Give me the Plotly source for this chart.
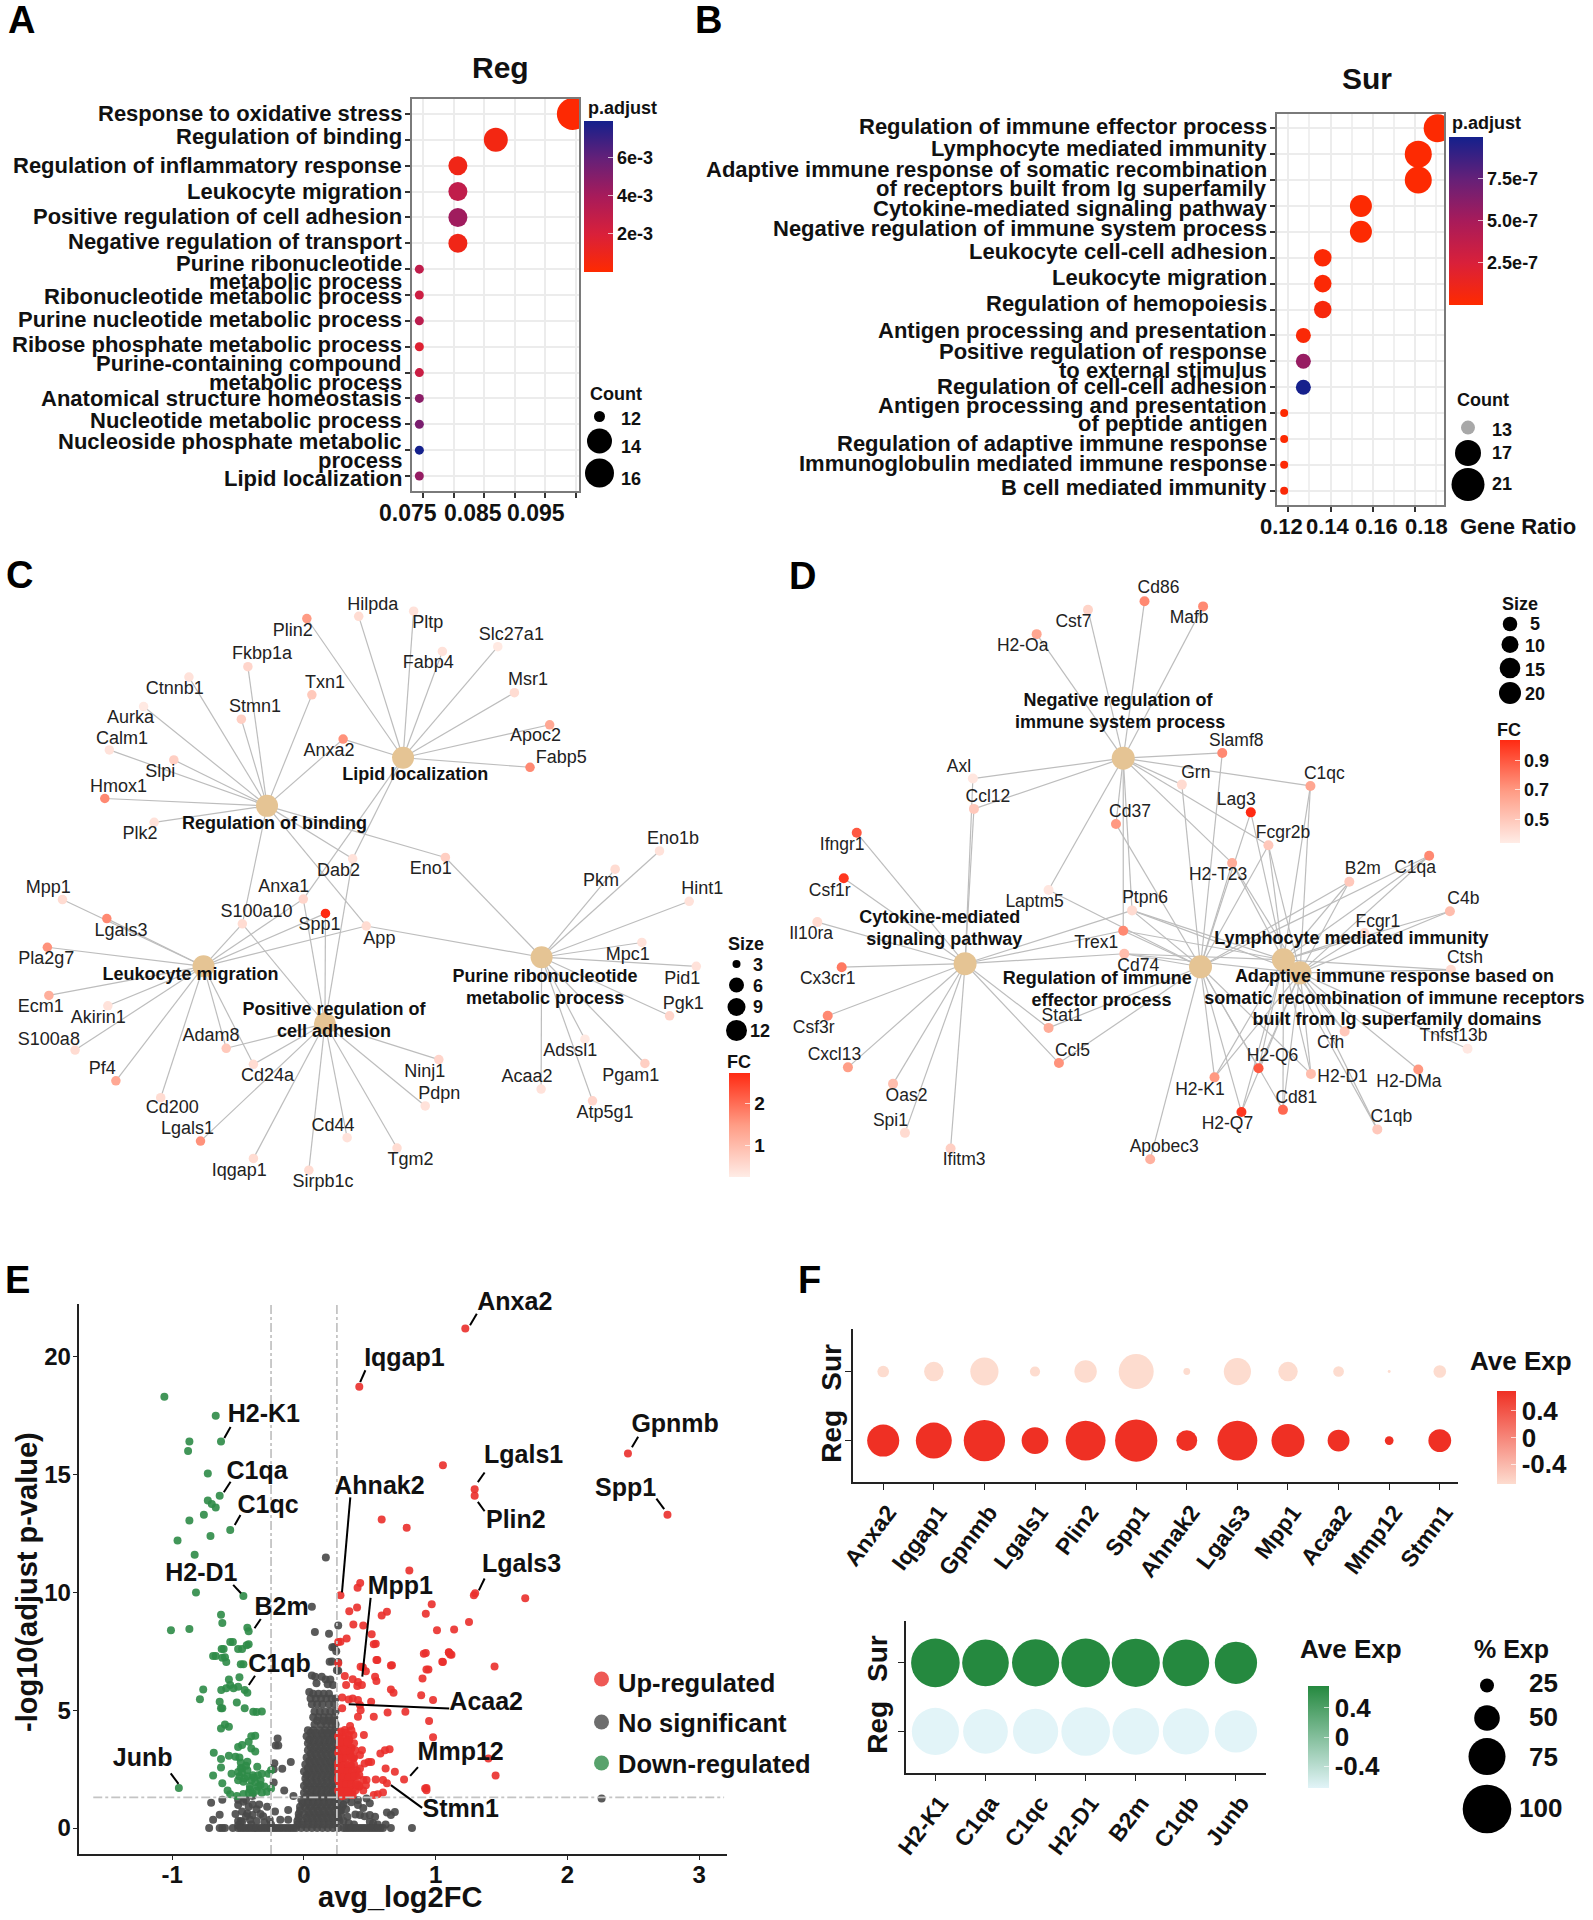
import plotly.graph_objects as go

W, H = 1593, 1920
FONT = "Liberation Sans"

# ---------- Panel A data ----------
A_terms = ["Response to oxidative stress", "Regulation of binding", "Regulation of inflammatory response",
           "Leukocyte migration", "Positive regulation of cell adhesion", "Negative regulation of transport",
           "Purine ribonucleotide\nmetabolic process", "Ribonucleotide metabolic process",
           "Purine nucleotide metabolic process", "Ribose phosphate metabolic process",
           "Purine-containing compound\nmetabolic process", "Anatomical structure homeostasis",
           "Nucleotide metabolic process", "Nucleoside phosphate metabolic\nprocess", "Lipid localization"]
A_ratio = [0.0995, 0.0869, 0.0807, 0.0807, 0.0807, 0.0807, 0.0744, 0.0744, 0.0744, 0.0744, 0.0744, 0.0744, 0.0744, 0.0744, 0.0744]
A_count = [16, 14, 13, 13, 13, 13, 11, 11, 11, 11, 11, 11, 11, 11, 11]
A_padj = [1e-4, 6e-4, 8e-4, 3.0e-3, 4.2e-3, 8e-4, 3.0e-3, 2.5e-3, 3.2e-3, 1.7e-3, 2.6e-3, 4.8e-3, 5.3e-3, 7.9e-3, 4.5e-3]
A_xlabels = ["0.075", "0.085", "0.095"]

# ---------- Panel B data ----------
B_terms = ["Regulation of immune effector process", "Lymphocyte mediated immunity",
           "Adaptive immune response of somatic recombination\nof receptors built from Ig superfamily",
           "Cytokine-mediated signaling pathway", "Negative regulation of immune system process",
           "Leukocyte cell-cell adhesion", "Leukocyte migration", "Regulation of hemopoiesis",
           "Antigen processing and presentation", "Positive regulation of response\nto external stimulus",
           "Regulation of cell-cell adhesion", "Antigen processing and presentation\nof peptide antigen",
           "Regulation of adaptive immune response", "Immunoglobulin mediated immune response",
           "B cell mediated immunity"]
B_ratio = [0.1908, 0.1816, 0.1816, 0.1544, 0.1544, 0.1363, 0.1363, 0.1363, 0.1271, 0.1271, 0.1271, 0.118, 0.118, 0.118, 0.118]
B_count = [21, 20, 20, 17, 17, 15, 15, 15, 14, 14, 14, 13, 13, 13, 13]
B_padj = [1e-8, 1e-8, 1e-8, 1e-8, 1e-8, 2e-8, 2e-8, 5e-8, 3e-8, 5.6e-7, 9.9e-7, 1e-8, 1e-8, 2e-8, 3e-8]
B_xlabels = ["0.12", "0.14", "0.16", "0.18"]

# ---------- Panel C data (network layout units) ----------
C_cats = ["Regulation of binding", "Lipid localization", "Leukocyte migration",
          "Positive regulation of\ncell adhesion", "Purine ribonucleotide\nmetabolic process"]
C_cat_id = ["B", "L", "M", "A", "P"]
C_cat_x = [530, 800, 404, 645, 1075]
C_cat_y = [590, 479, 960, 1092, 939]
C_genes = ["Plin2", "Hilpda", "Pltp", "Fabp4", "Slc27a1", "Msr1", "Apoc2", "Fabp5", "Anxa2", "Fkbp1a", "Ctnnb1", "Stmn1", "Txn1",
           "Aurka", "Calm1", "Slpi", "Hmox1", "Plk2", "Eno1", "Dab2", "Anxa1", "S100a10", "App", "Spp1", "Mpp1", "Lgals3",
           "Pla2g7", "Ecm1", "Akirin1", "S100a8", "Pf4", "Cd200", "Adam8", "Cd24a", "Lgals1", "Iqgap1", "Sirpb1c", "Cd44",
           "Tgm2", "Pdpn", "Ninj1", "Eno1b", "Pkm", "Hint1", "Mpc1", "Pid1", "Pgk1", "Pgam1", "Adssl1", "Atp5g1", "Acaa2"]
C_gene_x = [609, 712, 821, 878, 988, 1021, 1091, 1052, 681, 492, 375, 479, 619,
            285, 217, 345, 208, 306, 884, 700, 602, 481, 727, 646, 124, 212,
            94, 97, 214, 149, 230, 319, 449, 503, 398, 503, 613, 689,
            788, 844, 871, 1309, 1221, 1368, 1274, 1382, 1329, 1280, 1161, 1176, 1074]
C_gene_y = [158, 153, 141, 234, 223, 329, 403, 501, 436, 269, 293, 390, 334,
            361, 461, 484, 573, 628, 709, 712, 805, 862, 867, 838, 806, 850,
            916, 1027, 1051, 1153, 1224, 1263, 1149, 1186, 1363, 1403, 1430, 1355,
            1379, 1282, 1175, 694, 736, 810, 905, 960, 1074, 1184, 1128, 1270, 1243]
C_fc = [1.5, 0.5, 0.4, 0.4, 0.3, 0.5, 1.3, 1.7, 1.6, 0.6, 0.4, 0.7, 0.8,
        0.3, 0.4, 0.7, 1.7, 0.4, 0.7, 0.4, 0.6, 0.5, 0.5, 2.73, 0.5, 1.7,
        1.6, 1.2, 0.4, 0.5, 1.3, 0.5, 0.8, 0.5, 1.6, 0.5, 0.5, 0.4,
        0.5, 0.4, 0.6, 0.4, 0.5, 0.4, 0.4, 0.4, 0.6, 0.7, 0.3, 0.6, 0.4]
C_links = ["L", "L", "L", "L", "L", "L", "L", "L", "BL", "B", "B", "B", "B",
           "B", "B", "B", "B", "B", "BP", "BLA", "LMA", "BMA", "BMP", "MA", "M", "M",
           "M", "M", "M", "M", "M", "M", "MA", "MA", "A", "A", "A", "A",
           "A", "A", "A", "P", "P", "P", "P", "P", "P", "P", "P", "P", "P"]
C_fc_ticks = [1, 2]

# ---------- Panel D data (network layout units) ----------
D_cats = ["Negative regulation of\nimmune system process", "Cytokine-mediated\nsignaling pathway",
          "Regulation of immune\neffector process", "Lymphocyte mediated immunity",
          "Adaptive immune response based on\nsomatic recombination of immune receptors\nbuilt from Ig superfamily domains"]
D_cat_id = ["N", "C", "R", "L", "A"]
D_cat_x = [662, 357, 811, 971, 1003]
D_cat_y = [480, 954, 961, 945, 975]
D_genes = ["Cd86", "Mafb", "Cst7", "H2-Oa", "Slamf8", "Axl", "Ccl12", "Grn", "C1qc", "Lag3", "Cd37", "Fcgr2b", "H2-T23",
           "B2m", "C1qa", "C4b", "Fcgr1", "Ctsh", "Laptm5", "Ptpn6", "Trex1", "Cd74", "Ifngr1", "Csf1r", "Il10ra", "Cx3cr1",
           "Csf3r", "Cxcl13", "Oas2", "Spi1", "Ifitm3", "Stat1", "Ccl5", "Apobec3", "H2-K1", "H2-Q6", "H2-Q7", "Cd81",
           "H2-D1", "Cfh", "C1qb", "H2-DMa", "Tnfsf13b"]
D_gene_x = [703, 816, 594, 495, 853, 372, 374, 775, 1023, 908, 648, 942, 872,
            1098, 1252, 1292, 1127, 1294, 518, 679, 662, 664, 148, 123, 72, 119,
            92, 131, 218, 241, 329, 518, 538, 714, 838, 923, 890, 970,
            1024, 1089, 1152, 1231, 1326]
D_gene_y = [118, 130, 138, 194, 468, 527, 597, 541, 544, 605, 632, 681, 722,
            765, 705, 833, 883, 968, 784, 831, 878, 931, 652, 757, 858, 962,
            1074, 1193, 1231, 1344, 1380, 1102, 1183, 1405, 1216, 1195, 1296, 1291,
            1208, 1110, 1336, 1198, 1150]
D_fc = [0.75, 0.75, 0.45, 0.65, 0.75, 0.37, 0.5, 0.42, 0.65, 1.04, 0.7, 0.5, 0.62,
        0.5, 0.75, 0.55, 0.42, 0.42, 0.37, 0.42, 0.75, 0.55, 0.9, 1.0, 0.42, 0.8,
        0.75, 0.68, 0.55, 0.42, 0.47, 0.62, 0.72, 0.6, 0.7, 0.9, 1.0, 0.85,
        0.55, 0.5, 0.5, 0.7, 0.36]
D_links = ["N", "N", "N", "N", "NR", "NC", "NC", "NR", "NLA", "RL", "NR", "NRLA", "NRLA",
           "RLA", "RLA", "LA", "LA", "LA", "NR", "NCRLA", "NCRL", "CRLA", "C", "C", "C", "C",
           "C", "C", "C", "C", "C", "CR", "CR", "R", "RLA", "RLA", "RLA", "RLA",
           "RLA", "LA", "LA", "A", "A"]

# ---------- Panel E data: avg_log2FC, -log10(adjust p-value) ----------
up_fc = [1.225, .42, 2.46, 1.055, 1.296, 1.296, 2.76, .59, .78, .8, .427, .407, .277, 1.3, 1.29, 1.68, .97, .925, .403, .344, .63, .59,
         .375, .45, 1.253, 1.14, 1.01, .514, .324, .277, .545, .925, 1.1, 1.12, 1.055, .557, .668, .945, 1.447, .447,
         .26, .53, .91, 1.1, 1.11, 1.05, .55, .66, .93, .26, .43, .47, .31, .9, .54, .55, .37, .41, .44, .32, .405, .66, .68,
         .89, .98, .29, .34, .37, .41, .51, .29, .425, .43, .41, .53, .635, .77, .95, .98,
         .35, .31, .28, .34, .375, .455, .27, .3, .345, .38, .29, .32, .36, .32, .27, .35, .31, .29, .375, .44, .58, .615, .65,
         .425, .49, .46, .51, .62, .69, .76, .425, .35, .31, .26, .29, .34, .39, .36, .31, .26, .475, .45, .545, .6, .63,
         .47, .42, .35, .29, .31, .26, .39, .35, .31, .92, .93, .6, .56, .53, .45, .37, 1.4, 1.455, .93, .28, .3, .33, .26, .36, .3, .4, .33, .27, .34, .29,
         .26, .3, .34, .27, .31, .36, .26, .29, .33, .38, .27, .3, .35, .26, .3, .34, .28, .33, .37, .4, .27, .31, .35, .4, .28, .32, .37, .42, .27, .31, .36,
         .28, .32, .36, .29, .33, .27, .31, .35, .39, .28, .32, .36, .27, .3, .34, .38, .29, .33, .37, .26, .3, .34, .38, .42, .28, .32, .36, .4, .29, .33]
up_logp = [21.2, 18.73, 15.9, 15.4, 14.38, 14.1, 13.3, 13.1, 12.75, 10.93, 10.4, 10.2, 9.88, 9.96, 9.88, 9.75, 9.5, 9.1, 9.36, 9.2, 9.18, 9.02,
           8.64, 8.6, 8.75, 8.43, 8.4, 8.23, 8.04, 7.91, 7.82, 7.43, 7.46, 7.36, 7.05, 7.13, 6.91, 6.73, 6.86, 6.82,
           7.9, 7.8, 7.4, 7.45, 7.37, 7.06, 7.13, 6.9, 6.73, 7.0, 6.85, 6.66, 6.45, 6.35, 6.42, 6.24, 6.32, 6.2, 6.07, 6.07, 6.03, 5.88, 5.74,
           5.64, 5.43, 5.54, 5.46, 5.5, 5.43, 5.36, 5.08, 5.22, 5.0, 4.72, 4.72, 4.9, 4.94, 4.54, 3.85,
           4.33, 4.16, 4.02, 3.95, 3.95, 3.95, 3.8, 3.73, 3.73, 3.6, 3.53, 3.46, 3.39, 3.25, 3.18, 3.1, 3.04, 2.9, 2.95, 3.3, 3.17, 3.3, 3.34,
           3.1, 2.8, 2.74, 2.8, 2.53, 2.39, 2.06, 2.53, 2.6, 2.53, 2.39, 2.32, 2.32, 2.32, 2.1, 2.06, 2.03, 2.04, 2.04, 2.06, 2.04, 1.9,
           1.82, 1.75, 1.75, 1.82, 1.6, 1.6, 1.6, 1.46, 1.4, 1.68, 1.61, 1.51, 1.44, 1.4, 1.6, 1.4, 2.95, 2.23, 1.7, 3.45, 3.55, 3.6, 2.75, 2.65, 2.2, 2.45, 1.95, 1.9, 1.5, 1.35,
           3.9, 3.85, 3.75, 3.5, 3.45, 3.4, 3.2, 3.1, 3.15, 3.0, 2.85, 2.8, 2.7, 2.6, 2.55, 2.45, 2.3, 2.25, 2.15, 2.2, 2.0, 1.95, 2.0, 1.9, 1.75, 1.7, 1.65, 1.8, 1.5, 1.45, 1.4,
           4.1, 4.05, 4.15, 3.65, 3.65, 3.3, 3.3, 3.25, 3.3, 2.95, 2.95, 3.0, 2.6, 2.65, 2.65, 2.7, 2.4, 2.4, 2.4, 2.15, 2.15, 2.15, 2.2, 2.25, 1.9, 1.85, 1.85, 1.85, 1.55, 1.55]

down_fc = [-1.06, -.67, -.63, -.87, -.88, -.73, -.64, -.73, -.70, -.67, -.76, -.87, -.56, -.71, -.96, -.83, -.82, -.46, -.63, -.62, -1.01, -.87,
           -.43, -.42, -.54, -.61, -.42, -.47, -.67, -.60, -.59, -.46, -.56, -.625, -.50, -.435, -.69, -.62, -.48, -.765, -.79, -.628, -.57, -.49, -.56,
           -.535, -.5, -.59, -.45, -.43, -.64, -.63, -.62, -.51, -.45, -.385, -.36, -.32, -.63, -.6, -.57, -.4, -.37, -.42, -.47, -.5, -.4, -.37, -.685,
           -.63, -.57, -.52, -.48, -.43, -.63, -.355, -.47, -.55, -.5, -.49, -.69, -.43, -.39, -.35, -.32, -.27, -.25, -.5, -.46, -.4, -.33, -.62, -.41,
           -.33, -.3, -.58, -.56, -.51, -.42, -.39, -.36, -.32, -.28, -.25, -.95, -.48, -.47, -.45, -.37, -.41, -.46, -.44, -.38, -.35, -.43, -.49]
down_logp = [18.3, 17.5, 16.4, 16.4, 16.0, 15.05, 14.1, 13.9, 13.75, 13.6, 13.3, 13.05, 12.65, 12.4, 12.2, 11.6, 10.0, 9.85, 9.05, 8.7, 8.4, 8.45,
             8.5, 8.35, 7.9, 7.6, 7.8, 7.6, 7.3, 7.25, 7.05, 6.95, 7.9, 7.6, 7.6, 7.76, 7.3, 7.23, 6.95, 5.88, 5.47, 5.86, 6.3, 6.4, 6.07,
             5.93, 6.0, 5.93, 5.86, 5.74, 5.36, 5.08, 5.08, 5.33, 5.08, 4.94, 4.93, 4.95, 4.23, 4.4, 4.3, 3.9, 3.92, 3.66, 3.53, 3.44, 3.38, 3.25, 3.2,
             2.93, 3.07, 3.03, 2.78, 2.82, 2.57, 2.6, 2.53, 2.31, 2.38, 2.2, 2.23, 2.2, 2.24, 2.24, 2.31, 2.31, 2.45, 2.03, 1.97, 2.03, 2.03, 1.9, 1.78,
             1.83, 1.76, 1.6, 1.44, 1.36, 1.5, 1.47, 1.58, 1.5, 1.54, 1.68, 1.7, 2.55, 2.35, 2.1, 1.95, 1.65, 1.45, 2.65, 2.15, 1.75, 2.45, 3.0]

grey_fc = [.166, .06, .083, .19, .26, .23, .245, .213, .26, .26, 2.26, .215, .195, .25, .06, .085, .135, .165, .095, .18, .22, .04, .2,
           -.2, -.215, -.195, -.225, -.23, -.1, -.165, -.23, -.15, -.08, -.705, -.62, -.5, -.46, -.39, -.5, -.39, -.34, -.47, -.43, -.39, -.36,
           -.64, -.69, -.41, -.47, -.31, -.22, -.12, -.26, -.18, -.12, -.5, .41, .475, .5, .41, .33, .425, .39, .54, .63, .66, .69, .5, .525, .3, .28, .32,
           .07, .11, .15, .19, .05, .09, .13, .17, .21, .24, .06, .10, .14, .19, .23, .08, .12, .16, .2, .24, .07, .11, .15, .19, .23,
           .08, .13, .17, .21, .24, .03, .07, .12, .16, .2, .24, .02, .06, .1, .14, .18, .22, .25, .03, .07, .11, .15, .19, .23,
           .03, .07, .11, .15, .19, .23, .25, .02, .06, .1, .14, .18, .22, .01, .05, .09, .13, .17, .21, .24,
           .0, .04, .08, .12, .16, .2, .24, .01, .05, .09, .13, .17, .21, .25, .0, .04, .08, .12, .16, .2, .24,
           .0, .05, .09, .13, .17, .21, .25, -.02, .03, .07, .11, .15, .19, .23, .27, -.03, .01, .05, .09, .13, .17, .21, .25, .29,
           -.04, .0, .04, .08, .12, .16, .2, .24, .28, -.05, -.01, .03, .07, .11, .15, .19, .23, .27,
           -.72, -.64, -.62, -.60, -.54, -.50, -.46, -.42, -.38, -.34, -.30, -.26, -.22, -.18, -.14, -.10, -.06, -.02, .02, .06, .10, .14, .18, .22,
           .26, .30, .34, .38, .42, .46, .50, .54, .58, .66, .82,
           -.05, -.01, .03, .07, .11, .15, .19, .23, -.04, .02, .06, .10, .14, .18, .22, .26, -.03, .03, .07, .11, .15, .19, .23, .27,
           -.01, .03, .07, .11, .15, .19, .23, .02, .06, .10, .14, .18, .22, .02, .06, .10, .14, .18, .22, .02, .06, .10, .14, .18, .22,
           .02, .06, .10, .14, .18, .22, .03, .07, .11, .15, .19, .23, .04, .08, .12, .16, .2, .24, .05, .09, .13, .17, .21, .05, .09, .13, .17, .21,
           .04, .08, .12, .16, .2, .24, .05, .09, .14, .18, .22, .1, .15, .19, .23,
           -.48, -.44, -.42, -.36, -.33, -.3, -.44, -.28, -.52, -.25, -.4, -.5, .3, .34, .38, .46, .32, .36, .5, .45, .56, .62,
           -.48, -.44, -.4, -.36, -.32, -.28, -.24, -.2, -.16, -.12, -.08, .32, .36, .4, .44, .48, .52, .56, .6]
grey_logp = [11.48, 9.39, 8.32, 8.25, 8.6, 7.68, 7.5, 7.07, 7.05, 6.68, 1.25, 7.67, 7.06, 6.7, 6.48, 6.42, 6.42, 6.3, 6.15, 6.1, 6.07, 5.77, 6.3,
             3.8, 3.5, 3.5, 2.75, 2.5, 2.8, 2.52, 1.93, 1.6, 1.36, 1.08, 1.2, 1.2, 1.12, 1.36, .98, 1.0, 1.0, .7, .62, .55, .8,
             .57, .35, .35, .27, .5, .7, .77, .35, .35, .35, .3, 1.19, 1.26, 1.05, .98, .48, .55, .58, .48, .66, .55, .68, .27, .2, 1.0, .75, 1.2,
             5.7, 5.7, 5.7, 5.7, 5.5, 5.5, 5.5, 5.5, 5.5, 5.5, 5.25, 5.25, 5.25, 5.25, 5.25, 4.95, 4.95, 4.95, 4.95, 4.95, 4.7, 4.7, 4.7, 4.7, 4.7,
             4.4, 4.4, 4.4, 4.4, 4.4, 4.15, 4.15, 4.15, 4.15, 4.15, 4.15, 3.9, 3.9, 3.9, 3.9, 3.9, 3.9, 3.9, 3.6, 3.6, 3.6, 3.6, 3.6, 3.6,
             3.3, 3.3, 3.3, 3.3, 3.3, 3.3, 3.3, 3.0, 3.0, 3.0, 3.0, 3.0, 3.0, 2.7, 2.7, 2.7, 2.7, 2.7, 2.7, 2.7,
             2.4, 2.4, 2.4, 2.4, 2.4, 2.4, 2.4, 2.1, 2.1, 2.1, 2.1, 2.1, 2.1, 2.1, 1.8, 1.8, 1.8, 1.8, 1.8, 1.8, 1.8,
             1.5, 1.5, 1.5, 1.5, 1.5, 1.5, 1.5, 1.2, 1.2, 1.2, 1.2, 1.2, 1.2, 1.2, 1.2, .9, .9, .9, .9, .9, .9, .9, .9, .9,
             .6, .6, .6, .6, .6, .6, .6, .6, .6, .3, .3, .3, .3, .3, .3, .3, .3, .3,
             0, 0, 0, 0, 0, 0, 0, 0, 0, 0, 0, 0, 0, 0, 0, 0, 0, 0, 0, 0, 0, 0, 0, 0,
             0, 0, 0, 0, 0, 0, 0, 0, 0, 0, 0,
             .15, .15, .15, .15, .15, .15, .15, .15, .45, .45, .45, .45, .45, .45, .45, .45, .75, .75, .75, .75, .75, .75, .75, .75,
             1.05, 1.05, 1.05, 1.05, 1.05, 1.05, 1.05, 1.35, 1.35, 1.35, 1.35, 1.35, 1.35, 1.65, 1.65, 1.65, 1.65, 1.65, 1.65, 1.95, 1.95, 1.95, 1.95, 1.95, 1.95,
             2.25, 2.25, 2.25, 2.25, 2.25, 2.25, 2.55, 2.55, 2.55, 2.55, 2.55, 2.55, 2.85, 2.85, 2.85, 2.85, 2.85, 2.85, 3.15, 3.15, 3.15, 3.15, 3.15, 3.45, 3.45, 3.45, 3.45, 3.45,
             3.75, 3.75, 3.75, 3.75, 3.75, 3.75, 4.05, 4.05, 4.05, 4.05, 4.05, 4.55, 4.55, 4.55, 4.55,
             .3, .5, .9, .3, .6, .25, 1.2, .9, .6, .15, .15, .12, .3, .2, .15, .5, .8, 1.1, .55, .85, .15, .15,
             0, 0, 0, 0, 0, 0, 0, 0, 0, 0, 0, 0, 0, 0, 0, 0, 0, 0, 0]
E_labels = ["Anxa2", "Iqgap1", "H2-K1", "Gpnmb", "Lgals1", "C1qa", "Spp1", "Ahnak2", "C1qc", "Plin2", "Lgals3", "H2-D1", "Mpp1",
            "B2m", "C1qb", "Acaa2", "Mmp12", "Junb", "Stmn1"]

# ---------- Panel F data ----------
F1_genes = ["Anxa2", "Iqgap1", "Gpnmb", "Lgals1", "Plin2", "Spp1", "Ahnak2", "Lgals3", "Mpp1", "Acaa2", "Mmp12", "Stmn1"]
F1_reg_pct = [66, 74, 85, 55, 82, 87, 43, 82, 68, 45, 18, 47]
F1_sur_pct = [24, 40, 58, 21, 46, 72, 14, 56, 40, 22, 6, 26]
F2_genes = ["H2-K1", "C1qa", "C1qc", "H2-D1", "B2m", "C1qb", "Junb"]
F2_sur_pct = [100, 96, 97, 100, 99, 96, 87]
F2_reg_pct = [97, 92, 93, 100, 96, 95, 87]
F_groups = ["Reg", "Sur"]
F_reg_exp = 0.7
F_sur_exp = -0.7

# ---------- layout positions (pixels / reference units), kept apart from data ----------
A_label_lines = [114, 136.6, 166, 191, 216.6, 242, (263, 282), 297, 320, 344, (363, 382), 399, 421, (441, 460), 478]
B_label_lines = [126, 148, (170, 188.6), 208, 228, 252, 277.6, 303, 331, (351, 370), 387, (405, 423), 443.5, 463.5, 487]
A_xlab_pos = [408, 473, 536]
B_xlab_pos = [1281, 1328, 1376.5, 1426]

C_lx = [581, 740, 849, 850, 1015, 1048, 1063, 1114, 653, 520, 347, 506, 645,
        259, 242, 318, 235, 278, 855, 672, 563, 509, 753, 634, 96, 240,
        92, 81, 195, 97, 203, 342, 419, 531, 372, 475, 641, 661,
        815, 872, 843, 1336, 1193, 1394, 1246, 1354, 1356, 1252, 1132, 1201, 1046]
C_ly = [187, 127, 170, 262, 196, 302, 431, 481, 465, 242, 322, 364, 307,
        388, 437, 513, 547, 657, 737, 741, 778, 835, 897, 867, 780, 879,
        945, 1056, 1080, 1130, 1197, 1288, 1122, 1215, 1337, 1433, 1459, 1329,
        1408, 1256, 1205, 668, 764, 783, 935, 990, 1048, 1213, 1156, 1299, 1217]
C_cat_lab = [[(545, 632)], [(824, 521)], [(378, 980)], [(663, 1062), (663, 1112)], [(1082, 986), (1082, 1036)]]

D_lx = [730, 789, 566, 468, 880, 345, 401, 802, 1050, 880, 675, 970, 845,
        1124, 1225, 1318, 1153, 1321, 491, 704, 610, 691, 120, 96, 60, 92,
        65, 105, 244, 213, 355, 544, 564, 741, 810, 950, 863, 996,
        1085, 1062, 1179, 1213, 1299]
D_ly = [90, 158, 167, 222, 441, 501, 570, 515, 517, 578, 605, 655, 750,
        738, 735, 806, 860, 943, 813, 805, 907, 960, 682, 787, 888, 991,
        1104, 1167, 1260, 1317, 1409, 1075, 1157, 1379, 1246, 1168, 1324, 1264,
        1216, 1139, 1310, 1228, 1123]
D_cat_lab = [[(652, 350), (656, 400)], [(308, 850), (317, 900)], [(612, 990), (620, 1041)], [(1102, 897)],
             [(1185, 986), (1185, 1036), (1190, 1086)]]

E_lab_x = [983, 771, 501, 1291, 1000, 488, 1196, 723, 509, 985, 996, 381, 763, 535, 531, 928, 879, 268, 879]
E_lab_y = [105, 236, 369, 394, 467, 505, 545, 541, 586, 623, 727, 748, 778, 828, 965, 1054, 1174, 1187, 1308]
E_seg = [(910, 128, 897, 155), (696, 262, 686, 290), (437, 397, 425, 423), (1220, 420, 1208, 445), (925, 505, 912, 528),
         (437, 527, 424, 552), (1255, 567, 1270, 592), (667, 564, 651, 790), (456, 606, 445, 630), (925, 597, 912, 575),
         (925, 757, 914, 785), (442, 772, 457, 792), (706, 803, 690, 990), (495, 853, 483, 875), (484, 988, 472, 1010),
         (857, 1066, 664, 1056), (797, 1205, 782, 1226), (322, 1220, 337, 1245), (805, 1302, 745, 1248)]

# ---------- helpers ----------
RED_BLUE = [[0, "#ff2a00"], [0.25, "#d9203a"], [0.5, "#a81b5a"], [0.75, "#652078"], [1, "#14208c"]]
FC_SCALE = [[0, "#ffece6"], [0.5, "#ff9c85"], [1, "#ff2a12"]]
RED_EXP = [[0, "#fddccf"], [1, "#ef3024"]]
GREEN_EXP = [[0, "#e2f4f8"], [1, "#25893f"]]
TAN = "#e5c494"
EDGE = "#bdbdbd"

fig = go.Figure()
layout_axes = {}
notes = []


def add_axes(i, x0, x1, y0, y1, xkw, ykw):
    xn, yn = ("xaxis", "yaxis") if i == 1 else (f"xaxis{i}", f"yaxis{i}")
    ref_y = "y" if i == 1 else f"y{i}"
    ref_x = "x" if i == 1 else f"x{i}"
    layout_axes[xn] = dict(domain=[x0 / W, x1 / W], anchor=ref_y, zeroline=False, **xkw)
    layout_axes[yn] = dict(domain=[1 - y1 / H, 1 - y0 / H], anchor=ref_x, zeroline=False, **ykw)
    return ref_x, ref_y


def note(px, py, text, size=18, bold=True, anchor="center", color="#111111", angle=0):
    t = f"<b>{text}</b>" if bold else text
    notes.append(dict(x=px / W, y=1 - py / H, xref="paper", yref="paper", text=t, showarrow=False, xanchor=anchor,
                      yanchor="middle", textangle=angle, font=dict(family=FONT, size=size, color=color), borderpad=0))


def cbar(px, py, wd, ht, vals, texts, size=18):
    return dict(x=px / W, y=1 - py / H, xanchor="left", yanchor="top", lenmode="pixels", len=ht, thicknessmode="pixels",
                thickness=wd, xpad=0, ypad=0, outlinewidth=0, borderwidth=0, ticks="inside", ticklen=5, tickcolor="rgba(255,255,255,0.7)",
                tickvals=vals, ticktext=texts, tickfont=dict(family=FONT, size=size, color="#111111", weight="bold"))


HIDE = dict(visible=False, showgrid=False)
BOX = dict(showline=True, mirror=True, linecolor="#7a7a7a", linewidth=1.5, ticks="outside", ticklen=5, tickcolor="#333333", tickwidth=1.5,
           showticklabels=False, showgrid=True, gridcolor="#ececec", gridwidth=2)

# overlay for hand-placed legend keys
ox, oy = add_axes(9, 0, W, 0, H, dict(range=[0, W], **HIDE), dict(range=[H, 0], **HIDE))


def key_dots(xs, ys, sizes, colors="#000000"):
    fig.add_trace(go.Scatter(x=xs, y=ys, mode="markers", xaxis=ox, yaxis=oy, showlegend=False, hoverinfo="skip", cliponaxis=False,
                             marker=dict(size=sizes, color=colors, opacity=1, line=dict(width=0))))


# ---------- Panel A ----------
ax, ay = add_axes(1, 412, 579, 99, 491,
                  dict(range=[0.0732, 0.1005], tickmode="linear", tick0=0.075, dtick=0.005, **BOX),
                  dict(type="category", categoryorder="array", categoryarray=[t.replace("\n", " ") for t in A_terms],
                       range=[14.58, -0.58], **BOX))
size_a = {11: 9, 13: 19, 14: 24, 16: 32}
fig.add_trace(go.Scatter(x=A_ratio, y=[t.replace("\n", " ") for t in A_terms], mode="markers", xaxis=ax, yaxis=ay, showlegend=False,
                         marker=dict(size=[size_a[c] for c in A_count], color=A_padj, colorscale=RED_BLUE, cmin=0, cmax=7.9e-3, opacity=1,
                                     line=dict(width=0), showscale=True,
                                     colorbar=cbar(584, 121, 29, 151, [2e-3, 4e-3, 6e-3], ["2e-3", "4e-3", "6e-3"]))))
for term, ys in zip(A_terms, A_label_lines):
    lines = term.split("\n")
    ys = ys if isinstance(ys, tuple) else (ys,)
    for ln, yy in zip(lines, ys):
        note(403, yy, ln, 22, anchor="right")
for lab, px in zip(A_xlabels, A_xlab_pos):
    note(px, 513, lab, 23)
note(500, 68, "Reg", 30)
note(622, 108, "p.adjust", 18)
note(616, 394, "Count", 18)
key_dots([599.5, 599.5, 599.5], [416.5, 441, 473], [11, 25, 29])
for v, y in zip(["12", "14", "16"], [419, 446.5, 479]):
    note(631, y, v, 18)

# ---------- Panel B ----------
bx, by = add_axes(2, 1277, 1444, 114, 505,
                  dict(range=[0.1146, 0.1938], tickmode="linear", tick0=0.12, dtick=0.02,
                       minor=dict(dtick=0.01, showgrid=True, gridcolor="#f0f0f0", gridwidth=1.5, ticks=""), **BOX),
                  dict(type="category", categoryorder="array", categoryarray=[t.replace("\n", " ") for t in B_terms],
                       range=[14.55, -0.55], **BOX))
size_b = {13: 8, 14: 15, 15: 17.6, 17: 22, 20: 27, 21: 28}
fig.add_trace(go.Scatter(x=B_ratio, y=[t.replace("\n", " ") for t in B_terms], mode="markers", xaxis=bx, yaxis=by, showlegend=False,
                         marker=dict(size=[size_b[c] for c in B_count], color=B_padj, colorscale=RED_BLUE, cmin=0, cmax=9.95e-7, opacity=1,
                                     line=dict(width=0), showscale=True,
                                     colorbar=cbar(1449.4, 137, 33.6, 167.5, [2.5e-7, 5e-7, 7.5e-7], ["2.5e-7", "5.0e-7", "7.5e-7"]))))
for term, ys in zip(B_terms, B_label_lines):
    lines = term.split("\n")
    ys = ys if isinstance(ys, tuple) else (ys,)
    for ln, yy in zip(lines, ys):
        note(1268, yy, ln, 22, anchor="right")
for lab, px in zip(B_xlabels, B_xlab_pos):
    note(px, 526.5, lab, 22)
note(1518, 527, "Gene Ratio", 22)
note(1367, 78, "Sur", 30)
note(1486, 123, "p.adjust", 18)
note(1483, 400, "Count", 18)
key_dots([1468, 1468, 1468], [427.6, 453, 484.5], [14, 26, 33], ["#a8a8a8", "#000000", "#000000"])
for v, y in zip(["13", "17", "21"], [430, 453, 484.5]):
    note(1502, y, v, 18)


# ---------- Networks ----------
def network(ix, box, rng, cat_id, cat_x, cat_y, cats, cat_lab, genes, gx, gy, fc, links, lx, ly, cat_size, gene_size, cb, cmin, cmax, lab_size, gene_lab_size):
    nx, ny = add_axes(ix, box[0], box[1], box[2], box[3], dict(range=[0, rng[0]], **HIDE), dict(range=[rng[1], 0], **HIDE))
    ex, ey = [], []
    pos = dict(zip(cat_id, zip(cat_x, cat_y)))
    for x, y, lk in zip(gx, gy, links):
        for c in lk:
            ex += [x, pos[c][0], None]
            ey += [y, pos[c][1], None]
    fig.add_trace(go.Scatter(x=ex, y=ey, mode="lines", xaxis=nx, yaxis=ny, showlegend=False, hoverinfo="skip",
                             line=dict(color=EDGE, width=1.2)))
    fig.add_trace(go.Scatter(x=cat_x, y=cat_y, mode="markers", xaxis=nx, yaxis=ny, showlegend=False, text=[c.replace("\n", " ") for c in cats],
                             marker=dict(size=cat_size, color=TAN, opacity=1, line=dict(width=0))))
    fig.add_trace(go.Scatter(x=gx, y=gy, mode="markers", xaxis=nx, yaxis=ny, showlegend=False, text=genes,
                             marker=dict(size=gene_size, color=fc, colorscale=FC_SCALE, cmin=cmin, cmax=cmax, opacity=1, line=dict(width=0),
                                         showscale=True, colorbar=cb)))
    fig.add_trace(go.Scatter(x=lx, y=ly, mode="text", text=genes, xaxis=nx, yaxis=ny, showlegend=False, hoverinfo="skip", cliponaxis=False,
                             textposition="middle center", textfont=dict(family=FONT, size=gene_lab_size, color="#222222")))
    tx, ty, tt = [], [], []
    for name, places in zip(cats, cat_lab):
        for line, p in zip(name.split("\n"), places):
            tx.append(p[0]); ty.append(p[1]); tt.append(line)
    fig.add_trace(go.Scatter(x=tx, y=ty, mode="text", text=tt, xaxis=nx, yaxis=ny, showlegend=False, hoverinfo="skip", cliponaxis=False,
                             textposition="middle center", textfont=dict(family=FONT, size=lab_size, color="#111111", weight="bold")))


network(3, (0, 790, 550, 1230), (1568, 1568), C_cat_id, C_cat_x, C_cat_y, C_cats, C_cat_lab, C_genes, C_gene_x, C_gene_y, C_fc, C_links,
        C_lx, C_ly, 22, 9.5, cbar(729, 1072.5, 21, 104, C_fc_ticks, ["1", "2"], 19), 0.25, 2.73, 18, 18)
network(4, (780, 1593, 550, 1230), (1568, 1568), D_cat_id, D_cat_x, D_cat_y, D_cats, D_cat_lab, D_genes, D_gene_x, D_gene_y, D_fc, D_links,
        D_lx, D_ly, 23, 10, cbar(1500, 739.5, 20, 102.5, [0.5, 0.7, 0.9], ["0.5", "0.7", "0.9"], 18), 0.344, 1.04, 18, 17.5)
note(746, 944, "Size", 18)
key_dots([736.5] * 4, [964, 985, 1007, 1030.5], [8, 15, 18, 21])
for v, x, y in zip(["3", "6", "9", "12"], [758, 758, 758, 760], [965, 986, 1007, 1031]):
    note(x, y, v, 18)
note(739, 1062, "FC", 18)
note(1520, 604, "Size", 18)
key_dots([1510] * 4, [624, 644.5, 668, 693], [14.5, 17, 20.7, 22])
for v, y in zip(["5", "10", "15", "20"], [624.5, 646, 670, 694]):
    note(1535, y, v, 18)
note(1509, 730, "FC", 18)

# ---------- Panel E ----------
ex_, ey_ = add_axes(5, 78.5, 727, 1304, 1854,
                    dict(range=[-1.712, 3.212], showline=True, linecolor="#222222", linewidth=1.5, ticks="outside", ticklen=4, tickcolor="#222222",
                         tickvals=[-1, 0, 1, 2, 3], ticktext=["-1", "0", "1", "2", "3"], showgrid=False, ticklabelstandoff=-6,
                         tickfont=dict(family=FONT, size=24, color="#111111", weight="bold")),
                    dict(range=[-1.10, 22.24], showline=True, linecolor="#222222", linewidth=1.5, ticks="outside", ticklen=4, tickcolor="#222222",
                         tickvals=[0, 5, 10, 15, 20], ticktext=["0", "5", "10", "15", "20"], showgrid=False, ticklabelstandoff=-3,
                         tickfont=dict(family=FONT, size=24, color="#111111", weight="bold")))
for xs, ys, col, nm in [(grey_fc, grey_logp, "#484848", "No significant"), (down_fc, down_logp, "#2e8b47", "Down-regulated"),
                        (up_fc, up_logp, "#ea2f2b", "Up-regulated")]:
    fig.add_trace(go.Scatter(x=xs, y=ys, mode="markers", name=nm, xaxis=ex_, yaxis=ey_, showlegend=False,
                             marker=dict(size=8, color=col, opacity=0.9, line=dict(width=0))))
for xs, ys in [([-0.25, -0.25], [-1.1, 22.24]), ([0.25, 0.25], [-1.1, 22.24]), ([-1.6, 3.19], [1.3, 1.3])]:
    fig.add_trace(go.Scatter(x=xs, y=ys, mode="lines", xaxis=ex_, yaxis=ey_, showlegend=False, hoverinfo="skip",
                             line=dict(color="#c4c4c4", width=1.8, dash="dashdot")))
fx = lambda z: (z - 578) / 253
fy = lambda z: (1350 - z) / 56
sx, sy = [], []
for s in E_seg:
    sx += [fx(s[0]), fx(s[2]), None]
    sy += [fy(s[1]), fy(s[3]), None]
fig.add_trace(go.Scatter(x=sx, y=sy, mode="lines", xaxis=ex_, yaxis=ey_, showlegend=False, hoverinfo="skip", cliponaxis=False,
                         line=dict(color="#000000", width=2)))
fig.add_trace(go.Scatter(x=[fx(v) for v in E_lab_x], y=[fy(v) for v in E_lab_y], mode="text", text=E_labels, xaxis=ex_, yaxis=ey_,
                         showlegend=False, hoverinfo="skip", cliponaxis=False, textposition="middle center",
                         textfont=dict(family=FONT, size=25, color="#111111", weight="bold")))
note(27, 1582, "-log10(adjust p-value)", 29, angle=-90)
note(400, 1897, "avg_log2FC", 29)
key_dots([601.5, 601.5, 601.5], [1679, 1722, 1763], [15, 15, 15], ["rgba(234,47,43,0.8)", "rgba(72,72,72,0.8)", "rgba(46,139,71,0.8)"])
for t, y in zip(["Up-regulated", "No significant", "Down-regulated"], [1683, 1723, 1764]):
    note(617, y, t, 25.5, anchor="left")

# ---------- Panel F ----------
AX_F = dict(showline=True, linecolor="#222222", linewidth=2, ticks="outside", ticklen=6, tickcolor="#222222", showgrid=False, type="category")
fx1, fy1 = add_axes(6, 853, 1458, 1329.4, 1481.8,
                    dict(categoryorder="array", categoryarray=F1_genes, range=[-0.597, 11.36], tickangle=-53, ticklabelshift=5,
                         tickfont=dict(family=FONT, size=23, color="#111111", weight="bold"), **AX_F),
                    dict(categoryorder="array", categoryarray=F_groups, range=[-0.597, 1.61], tickangle=-90, ticklabelstandoff=-7,
                         tickfont=dict(family=FONT, size=28, color="#111111", weight="bold"), **AX_F))
fx2, fy2 = add_axes(7, 905.7, 1266, 1620.7, 1772.6,
                    dict(categoryorder="array", categoryarray=F2_genes, range=[-0.593, 6.6], tickangle=-53, ticklabelshift=5,
                         tickfont=dict(family=FONT, size=23, color="#111111", weight="bold"), **AX_F),
                    dict(categoryorder="array", categoryarray=F_groups, range=[-0.6, 1.614], tickangle=-90,
                         tickfont=dict(family=FONT, size=28, color="#111111", weight="bold"), **AX_F))
PCT = 0.486
fig.add_trace(go.Scatter(x=F1_genes * 2, y=["Reg"] * 12 + ["Sur"] * 12, mode="markers", xaxis=fx1, yaxis=fy1, showlegend=False,
                         marker=dict(size=[p * PCT for p in F1_reg_pct + F1_sur_pct], color=[F_reg_exp] * 12 + [F_sur_exp] * 12,
                                     colorscale=RED_EXP, cmin=-0.7, cmax=0.7, opacity=1, line=dict(width=0), showscale=True,
                                     colorbar=cbar(1497, 1391, 19, 93, [-0.4, 0, 0.4], ["-0.4", "0", "0.4"], 26))))
fig.add_trace(go.Scatter(x=F2_genes * 2, y=["Reg"] * 7 + ["Sur"] * 7, mode="markers", xaxis=fx2, yaxis=fy2, showlegend=False,
                         marker=dict(size=[p * PCT for p in F2_reg_pct + F2_sur_pct], color=[F_sur_exp] * 7 + [F_reg_exp] * 7,
                                     colorscale=GREEN_EXP, cmin=-0.7, cmax=0.7, opacity=1, line=dict(width=0), showscale=True,
                                     colorbar=cbar(1308, 1686, 20.6, 102, [-0.4, 0, 0.4], ["-0.4", "0", "0.4"], 26))))
note(1521, 1361, "Ave Exp", 26)
note(1350.7, 1649, "Ave Exp", 26)
note(1511, 1649, "% Exp", 25)
key_dots([1487] * 4, [1685.5, 1718, 1756.6, 1809], [14, 25.6, 37, 48.6])
for v, x, y in zip(["25", "50", "75", "100"], [1543, 1543, 1543, 1540], [1683, 1716.6, 1756.6, 1807.6]):
    note(x, y, v, 26)

# ---------- panel letters ----------
for t, x, y in [("A", 21, 20), ("B", 708, 20), ("C", 19, 575), ("D", 802, 576), ("E", 17, 1280), ("F", 809.5, 1280)]:
    note(x, y, t, 38, color="#000000")

fig.update_layout(width=W, height=H, autosize=False, margin=dict(l=0, r=0, t=0, b=0, autoexpand=False), paper_bgcolor="white", plot_bgcolor="rgba(0,0,0,0)",
                  font=dict(family=FONT), showlegend=False, annotations=notes, **layout_axes)
fig.write_html("out.html", config=dict(displayModeBar=False), post_script="document.body.style.margin='0';")
